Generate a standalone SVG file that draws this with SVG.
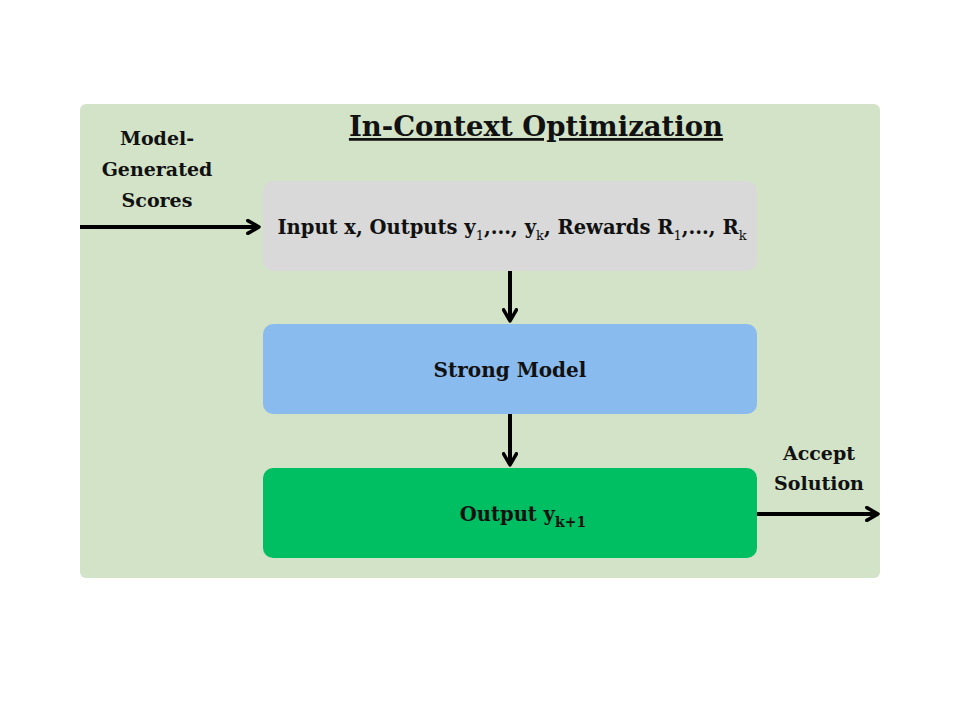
<svg xmlns="http://www.w3.org/2000/svg" width="960" height="720" viewBox="0 0 960 720">
<style>
.t{font-family:"DejaVu Serif","Liberation Serif",serif;font-weight:bold;fill:#111;}
.s{font-weight:normal;font-size:13px;}
.ln{stroke:#000;stroke-width:4;fill:none;}
</style>
<defs>
<marker id="ah" viewBox="0 0 10 10" refX="8" refY="5" markerWidth="4" markerHeight="4" orient="auto" markerUnits="strokeWidth">
<path d="M1,1 L8,5 L1,9" fill="none" stroke="#000" stroke-width="2.2" stroke-linecap="round" stroke-linejoin="round"/>
</marker>
</defs>
<rect width="960" height="720" fill="#fff"/>
<g id="panel">
<rect x="80" y="104" width="800" height="474" rx="6" fill="#d2e3c8"/>
<text class="t" x="536" y="136" font-size="27.5" text-anchor="middle" text-decoration="underline">In-Context Optimization</text>
</g>
<g id="input">
<rect x="263" y="181" width="494" height="90" rx="10" fill="#d9d9d9"/>
<text class="t" x="512" y="234" font-size="19.5" text-anchor="middle">Input x, Outputs y<tspan class="s" dy="6">1</tspan><tspan dy="-6">,..., y</tspan><tspan class="s" dy="6">k</tspan><tspan dy="-6">, Rewards R</tspan><tspan class="s" dy="6">1</tspan><tspan dy="-6">,..., R</tspan><tspan class="s" dy="6">k</tspan></text>
</g>
<g id="strong">
<rect x="263" y="324" width="494" height="90" rx="10" fill="#8abbee"/>
<text class="t" x="510" y="377" font-size="20" text-anchor="middle">Strong Model</text>
</g>
<g id="output">
<rect x="263" y="468" width="494" height="90" rx="10" fill="#00bf63"/>
<text class="t" x="523" y="521" font-size="19.5" text-anchor="middle">Output y<tspan font-size="14" dy="6">k+1</tspan></text>
</g>
<g id="labels">
<text class="t" x="157" y="145" font-size="19" text-anchor="middle">Model-</text>
<text class="t" x="157" y="176" font-size="19" text-anchor="middle">Generated</text>
<text class="t" x="157" y="207" font-size="19" text-anchor="middle">Scores</text>
<text class="t" x="819" y="460" font-size="19" text-anchor="middle">Accept</text>
<text class="t" x="819" y="490" font-size="19" text-anchor="middle">Solution</text>
</g>
<g id="connectors">
<line class="ln" x1="80" y1="227" x2="259" y2="227" marker-end="url(#ah)"/>
<line class="ln" x1="510" y1="271" x2="510" y2="321" marker-end="url(#ah)"/>
<line class="ln" x1="510" y1="414" x2="510" y2="465" marker-end="url(#ah)"/>
<line class="ln" x1="757" y1="514" x2="878" y2="514" marker-end="url(#ah)"/>
</g>
</svg>
